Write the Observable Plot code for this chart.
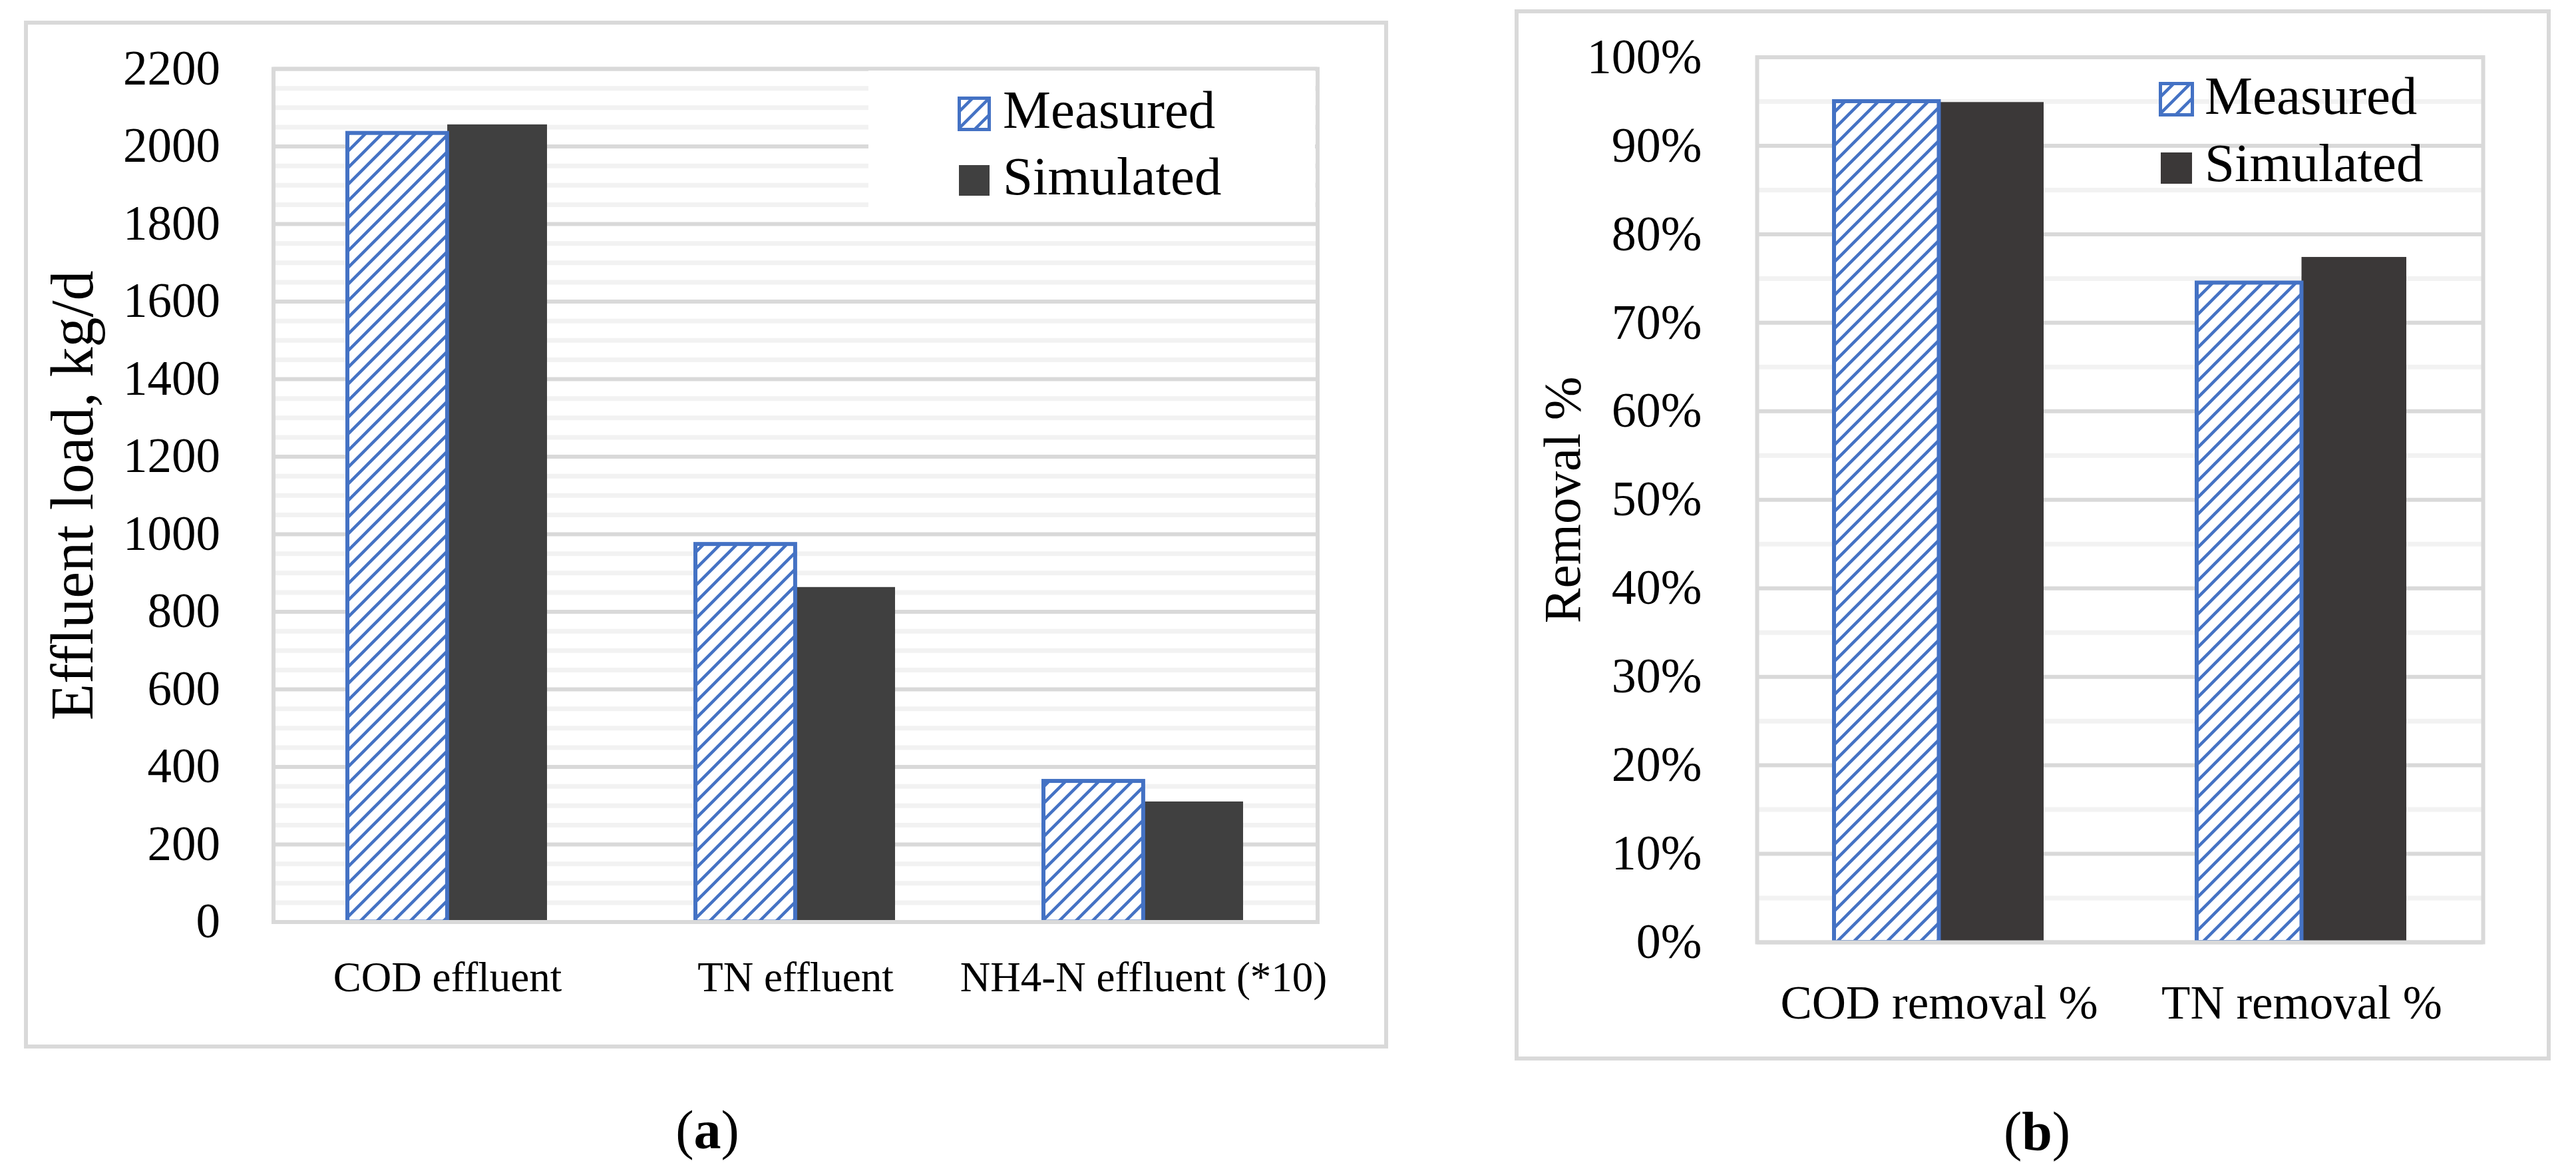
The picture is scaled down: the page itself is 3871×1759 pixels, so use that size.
<!DOCTYPE html>
<html>
<head>
<meta charset="utf-8">
<script src="https://cdn.jsdelivr.net/npm/d3@7"></script>
<script src="https://cdn.jsdelivr.net/npm/@observablehq/plot@0.6"></script>
<style>
html, body { margin: 0; padding: 0; background: #fff; }
#page { position: relative; width: 3871px; height: 1759px; overflow: hidden; background: #fff;
  font-family: "Liberation Serif", "Times New Roman", serif; color: #000; }
.panel { position: absolute; top: 0; }
.frame { position: absolute; border: 6px solid #d9d9d9; box-sizing: border-box; pointer-events: none; }
.lbl { position: absolute; line-height: 1; white-space: nowrap; }
.sw { position: absolute; }
</style>
</head>
<body>
<div id="page">
  <svg width="0" height="0" style="position:absolute;left:0;top:0">
    <defs>
      <pattern id="hatch" patternUnits="userSpaceOnUse" width="25" height="25">
        <rect width="25" height="25" fill="#ffffff"/>
        <path d="M-6.25,6.25 L6.25,-6.25 M0,25 L25,0 M18.75,31.25 L31.25,18.75" stroke="#4472c4" stroke-width="4.5" fill="none"/>
      </pattern>
    </defs>
  </svg>

  <div id="chartA" class="panel" style="left:0px"></div>
  <div id="chartB" class="panel" style="left:2200px"></div>

  <!-- outer frames -->
  <div class="frame" style="left:36px;top:31px;width:2050px;height:1544px"></div>
  <div class="frame" style="left:2276px;top:14px;width:1557px;height:1579px"></div>

  <!-- legend (a): white box hides gridlines -->
  <div style="position:absolute;left:1305px;top:106px;width:671px;height:216px;background:#fff"></div>
  <svg class="sw" style="left:1439px;top:145px" width="50" height="52">
    <rect x="2.5" y="2.5" width="45" height="47" fill="url(#hatch)" stroke="#4472c4" stroke-width="5"/>
  </svg>
  <div class="lbl" id="legA1" style="left:1507px;top:125px;font-size:81px">Measured</div>
  <svg class="sw" style="left:1441px;top:248px" width="46" height="46">
    <rect x="0" y="0" width="46" height="46" fill="#404040"/>
  </svg>
  <div class="lbl" id="legA2" style="left:1507px;top:225px;font-size:81px">Simulated</div>

  <!-- legend (b) -->
  <svg class="sw" style="left:3244px;top:123px" width="53" height="52">
    <rect x="2.5" y="2.5" width="48" height="47" fill="url(#hatch)" stroke="#4472c4" stroke-width="5"/>
  </svg>
  <div class="lbl" id="legB1" style="left:3313px;top:104px;font-size:81px">Measured</div>
  <svg class="sw" style="left:3247px;top:229px" width="47" height="47">
    <rect x="0" y="0" width="47" height="47" fill="#3b3838"/>
  </svg>
  <div class="lbl" id="legB2" style="left:3313px;top:205px;font-size:81px">Simulated</div>

  <!-- captions -->
  <div class="lbl" style="left:863px;top:1657px;width:400px;text-align:center;font-size:82px">(<b>a</b>)</div>
  <div class="lbl" style="left:2861px;top:1659px;width:400px;text-align:center;font-size:82px">(<b>b</b>)</div>
</div>

<script>
// ---------- data ----------
const categoriesA = ["COD effluent", "TN effluent", "NH4-N effluent (*10)"];
const measuredA = [2034, 974, 363];
const simulatedA = [2056, 863, 310];
const majorTicksA = [0, 200, 400, 600, 800, 1000, 1200, 1400, 1600, 1800, 2000, 2200];
const minorTicksA = [50, 100, 150, 250, 300, 350, 450, 500, 550, 650, 700, 750, 850, 900, 950,
  1050, 1100, 1150, 1250, 1300, 1350, 1450, 1500, 1550, 1650, 1700, 1750, 1850, 1900, 1950, 2050, 2100, 2150];

const categoriesB = ["COD removal %", "TN removal %"];
const measuredB = [0.950, 0.745];
const simulatedB = [0.949, 0.774];
const majorTicksB = [0, 0.1, 0.2, 0.3, 0.4, 0.5, 0.6, 0.7, 0.8, 0.9, 1.0];
const minorTicksB = [0.05, 0.15, 0.25, 0.35, 0.45, 0.55, 0.65, 0.75, 0.85, 0.95];

const seriesNames = ["Measured", "Simulated"];

const FONT = '"Liberation Serif", "Times New Roman", serif';

const rowsA = categoriesA.map((c, i) => ({category: c, measured: measuredA[i], simulated: simulatedA[i]}));
const rowsB = categoriesB.map((c, i) => ({category: c, measured: measuredB[i], simulated: simulatedB[i]}));

// ---------- panel (a) ----------
{
  const width = 2200, height = 1759;
  const mL = 410.5, mR = 220.5, mT = 103, mB = 374.5;
  const pad = 0.426;
  const step = (width - mL - mR) / categoriesA.length;
  const bw = step * (1 - pad);
  const chart = Plot.plot({
    width, height,
    marginLeft: mL, marginRight: mR, marginTop: mT, marginBottom: mB,
    style: {background: "transparent", overflow: "visible", fontFamily: FONT, color: "#000"},
    x: {domain: categoriesA, paddingInner: pad, paddingOuter: pad / 2},
    y: {domain: [0, 2200]},
    marks: [
      Plot.ruleY(minorTicksA, {stroke: "#f2f2f2", strokeWidth: 7}),
      Plot.ruleY(majorTicksA, {stroke: "#d9d9d9", strokeWidth: 6}),
      Plot.barY(rowsA, {x: "category", y: "simulated", fill: "#404040", insetLeft: bw / 2, title: d => `${seriesNames[1]}: ${d.simulated}`}),
      Plot.barY(rowsA, {x: "category", y: "measured", fill: "url(#hatch)", stroke: "#4472c4", strokeWidth: 6, insetRight: bw / 2, title: d => `${seriesNames[0]}: ${d.measured}`}),
      Plot.frame({stroke: "#d9d9d9", strokeWidth: 6}),
      Plot.axisY({ticks: majorTicksA, tickSize: 0, tickPadding: 80, fontSize: 73, fontFamily: FONT, fill: "#000", tickFormat: d => String(d), label: null}),
      Plot.axisX({tickSize: 0, tickPadding: 59, fontSize: 63, fontFamily: FONT, fill: "#000", label: null}),
      Plot.text(["Effluent load, kg/d"], {text: d => d, frameAnchor: "left", textAnchor: "middle", lineAnchor: "middle", rotate: -90, dx: -301, fontSize: 90, fontFamily: FONT, fill: "#000"})
    ]
  });
  document.getElementById("chartA").append(chart);
}

// ---------- panel (b) ----------
{
  const width = 1671, height = 1759;
  const mL = 440, mR = 140, mT = 85.5, mB = 344;
  const pad = 0.4225;
  const step = (width - mL - mR) / categoriesB.length;
  const bw = step * (1 - pad);
  const chart = Plot.plot({
    width, height,
    marginLeft: mL, marginRight: mR, marginTop: mT, marginBottom: mB,
    style: {background: "transparent", overflow: "visible", fontFamily: FONT, color: "#000"},
    x: {domain: categoriesB, paddingInner: pad, paddingOuter: pad / 2},
    y: {domain: [0, 1]},
    marks: [
      Plot.ruleY(minorTicksB, {stroke: "#f2f2f2", strokeWidth: 7}),
      Plot.ruleY(majorTicksB, {stroke: "#d9d9d9", strokeWidth: 6}),
      Plot.barY(rowsB, {x: "category", y: "simulated", fill: "#3b3838", insetLeft: bw / 2, title: d => `${seriesNames[1]}: ${d.simulated}`}),
      Plot.barY(rowsB, {x: "category", y: "measured", fill: "url(#hatch)", stroke: "#4472c4", strokeWidth: 6, insetRight: bw / 2, title: d => `${seriesNames[0]}: ${d.measured}`}),
      Plot.frame({stroke: "#d9d9d9", strokeWidth: 6}),
      Plot.axisY({ticks: majorTicksB, tickSize: 0, tickPadding: 83, fontSize: 74, fontFamily: FONT, fill: "#000", tickFormat: d3.format(".0%"), label: null}),
      Plot.axisX({tickSize: 0, tickPadding: 64.5, fontSize: 71, fontFamily: FONT, fill: "#000", label: null}),
      Plot.text(["Removal %"], {text: d => d, frameAnchor: "left", textAnchor: "middle", lineAnchor: "middle", rotate: -90, dx: -292, fontSize: 79, fontFamily: FONT, fill: "#000"})
    ]
  });
  document.getElementById("chartB").append(chart);
}
</script>
</body>
</html>
